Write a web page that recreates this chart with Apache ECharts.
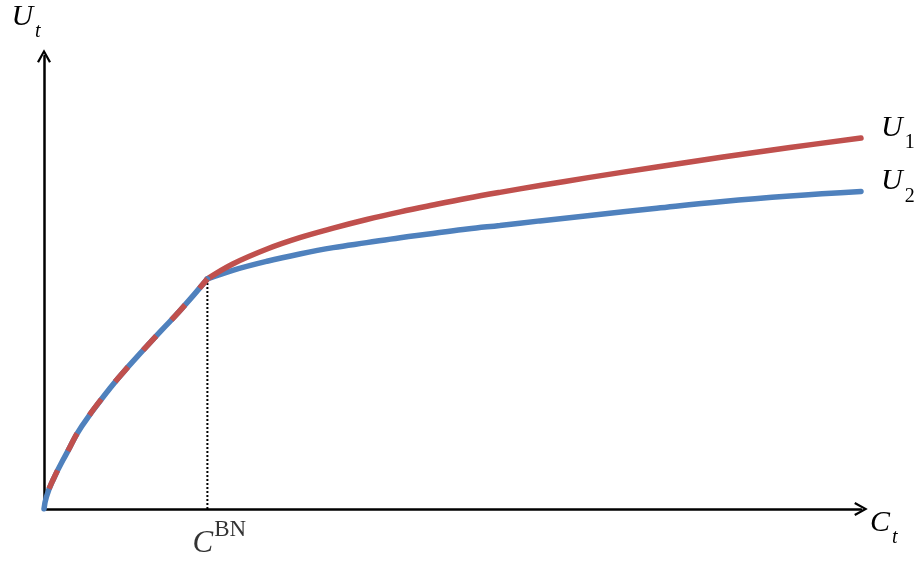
<!DOCTYPE html>
<html>
<head>
<meta charset="utf-8">
<script src="https://cdn.jsdelivr.net/npm/echarts@6/dist/echarts.min.js"></script>
<style>
html,body{margin:0;padding:0;background:#fff;}
#chart{width:919px;height:563px;}
</style>
</head>
<body>
<div id="chart"></div>
<script>
// Shared (kinked) segment from origin to C^BN
const sharedSegment = [[0,0],[0.3,2.7],[1.1,6.4],[2.8,12.4],[4.6,18.2],[8.1,26.7],[10.5,31.8],[14.2,39.1],[16.7,43.9],[20,50.8]];
// Upper branch U1 (red)
const u1Values = [[20,50.8],[23.1,54.1],[27.3,57.4],[31.3,59.9],[35.4,62.0],[39.5,63.9],[43.6,65.6],[47.6,67.1],[51.8,68.6],[55.8,69.9],[60.7,71.4],[66.8,73.2],[75.0,75.5],[83.1,77.7],[91.3,79.8],[100,81.9]];
// Upper branch U2 (blue)
const u2Values = [[20,50.8],[23.1,52.7],[27.3,54.7],[31.3,56.3],[35.4,57.7],[39.5,58.8],[43.6,59.9],[47.6,60.8],[51.8,61.8],[55.8,62.6],[60.7,63.6],[66.8,64.8],[75.0,66.4],[83.1,67.9],[91.3,69.1],[100,70.1]];
const kinkX = 20;
const kinkY = 50.8;

const RED = '#C0504D';
const BLUE = '#4F81BD';
const SERIF = 'Liberation Serif';

const richSub = {
  u: {fontFamily: SERIF, fontStyle: 'italic', fontSize: 30, lineHeight: 30, verticalAlign: 'top', color: '#000'},
  s: {fontFamily: SERIF, fontStyle: 'italic', fontSize: 20, lineHeight: 40, padding: [0,0,0,2], verticalAlign: 'bottom', color: '#000'},
  n: {fontFamily: SERIF, fontSize: 20, lineHeight: 40, padding: [0,0,0,2], verticalAlign: 'bottom', color: '#000'}
};
const richSup = {
  c: {fontFamily: SERIF, fontStyle: 'italic', fontSize: 31, lineHeight: 41, verticalAlign: 'bottom', color: '#000'},
  b: {fontFamily: SERIF, fontSize: 23, lineHeight: 23, padding: [0,0,0,1], verticalAlign: 'top', color: '#000'}
};

const chevron = 'path://M7,0 L14,12.5 L12,13.6 L7,4.3 L2,13.6 L0,12.5 Z';
const axisLineCfg = {
  show: true,
  symbol: ['none', chevron],
  symbolSize: [14, 14],
  lineStyle: {color: '#000', width: 2.5}
};

const chart = echarts.init(document.getElementById('chart'), null, {renderer: 'canvas'});
chart.setOption({
  animation: false,
  backgroundColor: '#fff',
  grid: {left: 44, right: 58, top: 56, bottom: 54},
  xAxis: {
    type: 'value', min: 0, max: 100,
    axisLine: axisLineCfg,
    axisTick: {show: false}, axisLabel: {show: false}, splitLine: {show: false},
    name: '{u|C}{s|t}', nameLocation: 'end', nameGap: 9,
    nameTextStyle: {rich: richSub, padding: [38,0,0,0]}
  },
  yAxis: {
    type: 'value', min: 0, max: 100,
    axisLine: axisLineCfg,
    axisTick: {show: false}, axisLabel: {show: false}, splitLine: {show: false},
    name: '{u|U}{s|t}', nameLocation: 'end', nameGap: 14,
    nameTextStyle: {rich: richSub, padding: [0,36,0,0]}
  },
  series: [
    {
      type: 'line', data: [[kinkX, 0], [kinkX, kinkY]], symbol: 'none', z: 1,
      lineStyle: {color: '#000', width: 2, type: [2, 2]}
    },
    {
      type: 'scatter', data: [[kinkX, 0]], symbolSize: 1, z: 1,
      itemStyle: {color: 'rgba(0,0,0,0)'},
      label: {show: true, position: 'bottom', distance: 9, offset: [12, 0], formatter: '{c|C}{b|BN}', rich: richSup}
    },
    {
      type: 'line', data: u2Values, symbol: 'none', smooth: 0.4, z: 3,
      lineStyle: {color: BLUE, width: 5.5, cap: 'round'},
      endLabel: {show: true, formatter: '{u|U}{n|2}', rich: richSub, distance: 20, offset: [0, -5]}
    },
    {
      type: 'line', data: u1Values, symbol: 'none', smooth: 0.4, z: 4,
      lineStyle: {color: RED, width: 5.5, cap: 'round'},
      endLabel: {show: true, formatter: '{u|U}{n|1}', rich: richSub, distance: 20, offset: [0, -5]}
    },
    {
      type: 'line', data: sharedSegment, symbol: 'none', smooth: 0.5, z: 5,
      lineStyle: {color: BLUE, width: 5.5, cap: 'round'}
    },
    {
      type: 'line', data: sharedSegment, symbol: 'none', smooth: 0.5, z: 6,
      lineStyle: {color: RED, width: 5.5, type: [20, 22], dashOffset: 21, cap: 'butt'}
    }
  ]
});
</script>
</body>
</html>
